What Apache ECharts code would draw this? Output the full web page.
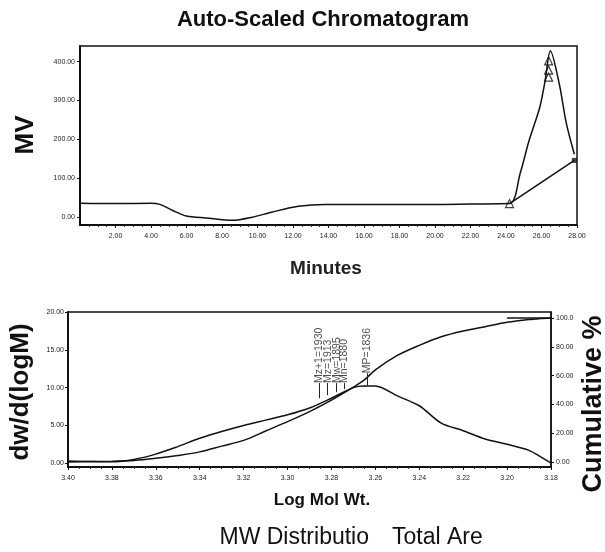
<!DOCTYPE html>
<html>
<head>
<meta charset="utf-8">
<script src="https://cdn.jsdelivr.net/npm/echarts@6/dist/echarts.min.js"></script>
<style>
  html, body { margin: 0; padding: 0; background: #fff; }
  #chart { width: 605px; height: 552px; }
</style>
</head>
<body>
<div id="chart"></div>
<script>
// chromatogram trace (minutes, mV)
const minutes = [0, 2, 4, 4.5, 5.2, 6.0, 7.1, 8.6, 9.7, 10.8, 12.3, 13.8, 16, 18, 20, 22, 24.2, 24.8, 25.3, 25.9, 26.2, 26.5, 27.0, 27.4, 27.85];
const mv = [36, 35, 36, 33, 18, 3, -2, -8, 0, 13, 28, 33, 33, 33, 33, 34, 35, 113, 197, 282, 350, 428, 343, 241, 162];
const baseline = [[24.2, 35], [27.85, 146]];
const peakMarks = [[24.2, 35], [26.4, 402], [26.4, 378], [26.4, 360]];
const xTicksTop = [2, 4, 6, 8, 10, 12, 14, 16, 18, 20, 22, 24, 26, 28];
const yTicksTop = [0, 100, 200, 300, 400];

// MW distribution
const logM = [3.40, 3.38, 3.37, 3.36, 3.35, 3.34, 3.33, 3.32, 3.31, 3.30, 3.29, 3.28, 3.27, 3.265, 3.26, 3.25, 3.24, 3.23, 3.22, 3.21, 3.20, 3.19, 3.185, 3.18];
const dwdlogM = [0.3, 0.2, 0.5, 1.2, 2.2, 3.3, 4.2, 5.0, 5.7, 6.4, 7.3, 8.6, 10.0, 10.2, 10.2, 8.9, 7.6, 5.3, 4.3, 3.2, 2.5, 1.7, 0.9, 0];
const cumulative = [0, 0.5, 1, 2.5, 4.5, 7, 11, 15, 21.5, 28, 35, 43, 52, 57, 64, 74, 81, 87, 91, 94, 97, 99, 99.6, 100];
const yTicksLeft = [0, 5, 10, 15, 20];
const yTicksRight = [0, 20, 40, 60, 80, 100];

// averages marked on the curve
const markNames = ['Mz+1=1930', 'Mz=1913', 'Mw=1895', 'Mn=1880', 'MP=1836'];
const markMW = [1930, 1913, 1895, 1880, 1836];
const markLow = [8.6, 9.0, 9.4, 9.8, 10.3];
const markHigh = [10.6, 10.6, 10.6, 10.6, 11.9];

const chart = echarts.init(document.getElementById('chart'));

const tinyLabel = { fontSize: 7, color: '#222', fontFamily: 'Liberation Sans' };
const blackLine = { color: '#111', width: 1.5 };

const markX = markMW.map(m => Math.log10(m));

const option = {
  backgroundColor: '#fff',
  animation: false,
  grid: [
    { left: 80, right: 28, top: 46, bottom: 327, show: true, borderColor: '#111', borderWidth: 1.5 },
    { left: 68, right: 54, top: 312, bottom: 85, show: true, borderColor: '#111', borderWidth: 1.5 }
  ],
  xAxis: [
    {
      gridIndex: 0, type: 'value', min: 0, max: 28, interval: 2,
      axisLine: { onZero: false, lineStyle: { color: '#111', width: 2 } },
      axisTick: { length: 3, lineStyle: { color: '#111' }, customValues: xTicksTop },
      minorTick: { show: true, splitNumber: 4, length: 2, lineStyle: { color: '#333' } },
      splitLine: { show: false },
      axisLabel: { ...tinyLabel, margin: 8, customValues: xTicksTop, formatter: v => v.toFixed(2) }
    },
    {
      gridIndex: 1, type: 'value', min: 3.18, max: 3.40, interval: 0.02, inverse: true,
      axisLine: { onZero: false, lineStyle: { color: '#111', width: 2 } },
      axisTick: { length: 3, lineStyle: { color: '#111' } },
      minorTick: { show: true, splitNumber: 4, length: 2, lineStyle: { color: '#333' } },
      splitLine: { show: false },
      axisLabel: { ...tinyLabel, margin: 8, formatter: v => v.toFixed(2) }
    }
  ],
  yAxis: [
    {
      gridIndex: 0, type: 'value', min: -20, max: 440,
      axisLine: { show: true, onZero: false, lineStyle: { color: '#111', width: 2 } },
      axisTick: { show: true, length: 3, customValues: yTicksTop },
      splitLine: { show: false },
      axisLabel: { ...tinyLabel, margin: 5, customValues: yTicksTop, formatter: v => v.toFixed(2) }
    },
    {
      gridIndex: 1, type: 'value', min: -0.5, max: 20,
      axisLine: { show: true, onZero: false, lineStyle: { color: '#111', width: 2 } },
      axisTick: { show: true, length: 3, customValues: yTicksLeft },
      splitLine: { show: false },
      axisLabel: { ...tinyLabel, margin: 4, customValues: yTicksLeft, formatter: v => v.toFixed(2) }
    },
    {
      gridIndex: 1, type: 'value', position: 'right', min: -3.5, max: 104.2,
      axisLine: { show: true, onZero: false, lineStyle: { color: '#111', width: 1.5 } },
      axisTick: { show: true, length: 3, customValues: yTicksRight },
      splitLine: { show: false },
      axisLabel: { ...tinyLabel, margin: 5, customValues: yTicksRight, formatter: v => v === 100 ? '100.0' : v.toFixed(2) }
    }
  ],
  graphic: [
    { type: 'text', x: 323, y: 20, style: { text: 'Auto-Scaled Chromatogram', font: 'bold 22px "Liberation Sans"', fill: '#111', align: 'center', verticalAlign: 'middle' } },
    { type: 'text', x: 326, y: 269, style: { text: 'Minutes', font: 'bold 19px "Liberation Sans"', fill: '#222', align: 'center', verticalAlign: 'middle' } },
    { type: 'text', x: 26, y: 135, rotation: Math.PI / 2, style: { text: 'MV', font: 'bold 26px "Liberation Sans"', fill: '#111', align: 'center', verticalAlign: 'middle' } },
    { type: 'text', x: 21, y: 392, rotation: Math.PI / 2, style: { text: 'dw/d(logM)', font: 'bold 26px "Liberation Sans"', fill: '#111', align: 'center', verticalAlign: 'middle' } },
    { type: 'text', x: 594, y: 404, rotation: Math.PI / 2, style: { text: 'Cumulative %', font: 'bold 27px "Liberation Sans"', fill: '#111', align: 'center', verticalAlign: 'middle' } },
    { type: 'text', x: 322, y: 500, style: { text: 'Log Mol Wt.', font: 'bold 17px "Liberation Sans"', fill: '#111', align: 'center', verticalAlign: 'middle' } },
    { type: 'text', x: 369, y: 538, style: { text: 'MW Distributio', font: '23px "Liberation Sans"', fill: '#111', align: 'right', verticalAlign: 'middle' } },
    { type: 'text', x: 392, y: 538, style: { text: 'Total Are', font: '23px "Liberation Sans"', fill: '#111', align: 'left', verticalAlign: 'middle' } }
  ],
  series: [
    {
      type: 'line', xAxisIndex: 0, yAxisIndex: 0, showSymbol: false, smooth: 0.3,
      lineStyle: blackLine, data: minutes.map((m, i) => [m, mv[i]])
    },
    {
      type: 'line', xAxisIndex: 0, yAxisIndex: 0, showSymbol: false,
      lineStyle: blackLine, data: baseline
    },
    {
      type: 'scatter', xAxisIndex: 0, yAxisIndex: 0, symbol: 'triangle', symbolSize: 8,
      itemStyle: { color: '#fff', borderColor: '#111', borderWidth: 1.2 }, data: peakMarks
    },
    {
      type: 'scatter', xAxisIndex: 0, yAxisIndex: 0, symbol: 'rect', symbolSize: 5,
      itemStyle: { color: '#111' }, data: [baseline[1]]
    },
    {
      type: 'line', xAxisIndex: 1, yAxisIndex: 1, showSymbol: false, smooth: 0.3,
      lineStyle: blackLine, data: logM.map((x, i) => [x, dwdlogM[i]])
    },
    {
      type: 'line', xAxisIndex: 1, yAxisIndex: 2, showSymbol: false, smooth: 0.3,
      lineStyle: blackLine, data: logM.map((x, i) => [x, cumulative[i]])
    },
    {
      type: 'line', xAxisIndex: 1, yAxisIndex: 2, showSymbol: false,
      lineStyle: { color: '#111', width: 1.5 }, data: [[3.20, 100], [3.18, 100]]
    },
    {
      type: 'scatter', xAxisIndex: 1, yAxisIndex: 1, symbolSize: 0,
      data: markX.map((x, i) => [x, markHigh[i]]),
      label: {
        show: true, position: 'inside', rotate: 90, align: 'left', verticalAlign: 'middle',
        fontSize: 10.5, color: '#222', fontFamily: 'Liberation Sans',
        formatter: p => markNames[p.dataIndex]
      },
      markLine: {
        silent: true, symbol: 'none', label: { show: false },
        lineStyle: { color: '#222', width: 1, type: 'solid' },
        data: markX.map((x, i) => [{ coord: [x, markLow[i]] }, { coord: [x, markHigh[i]] }])
      }
    }
  ]
};

chart.setOption(option);
</script>
</body>
</html>
